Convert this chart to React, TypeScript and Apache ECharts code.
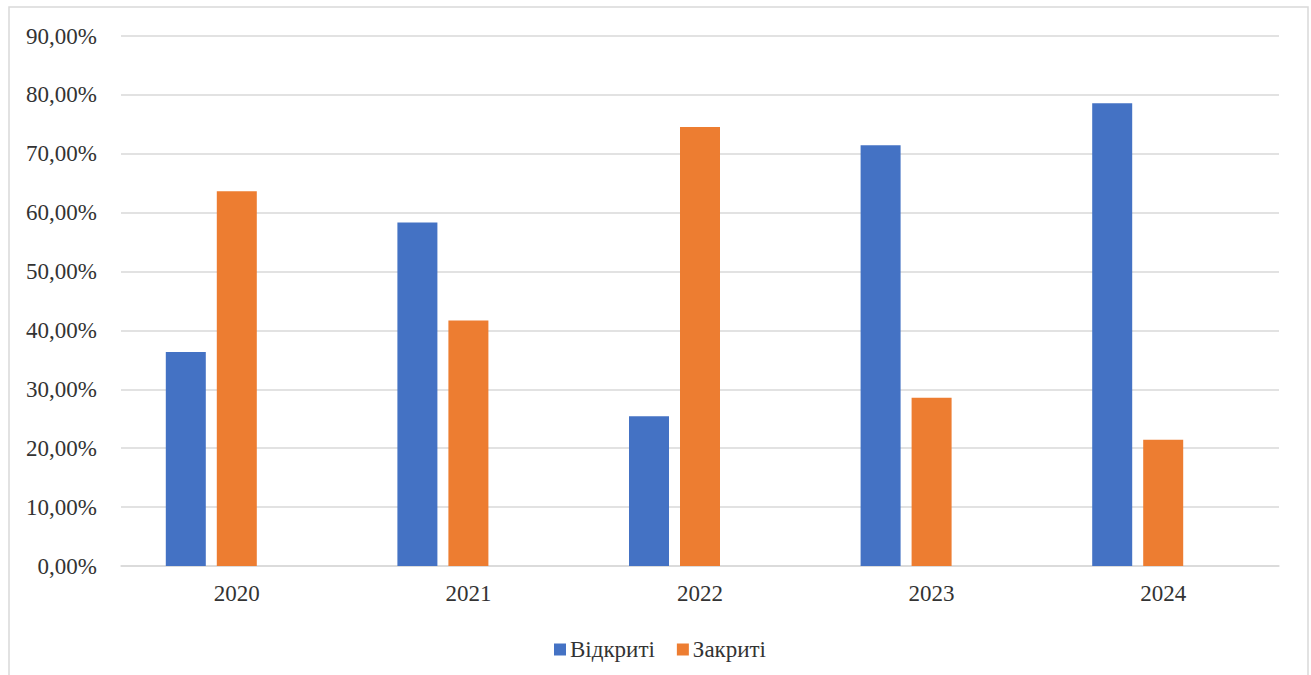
import React, { useEffect, useRef } from "react";
import * as echarts from "echarts";

const categories = ["2020", "2021", "2022", "2023", "2024"];
const openValues = [36.36, 58.33, 25.45, 71.43, 78.57];
const closedValues = [63.64, 41.67, 74.55, 28.57, 21.43];
const emptyValues = [null, null, null, null, null];
const seriesNames = ["Відкриті", "Закриті"];

const FONT = "Times New Roman, Liberation Serif, DejaVu Serif, serif";
const TEXT = "#333333";

export default function App() {
  const ref = useRef<HTMLDivElement>(null);
  useEffect(() => {
    if (!ref.current) return;
    const chart = echarts.init(ref.current, undefined, { renderer: "svg" });
    chart.setOption({
      animation: false,
      backgroundColor: "#ffffff",
      textStyle: { fontFamily: FONT },
      grid: { left: 121, right: 32, top: 36, bottom: 109, containLabel: false },
      legend: {
        data: seriesNames,
        left: 549,
        top: 633,
        itemWidth: 12,
        itemHeight: 12,
        itemGap: 22,
        icon: "rect",
        textStyle: { fontFamily: FONT, fontSize: 23, color: TEXT, padding: [0, 0, 0, -1] },
      },
      xAxis: {
        type: "category",
        data: categories,
        axisLine: { show: true, lineStyle: { color: "#d9d9d9", width: 1.5 } },
        axisTick: { show: false },
        axisLabel: { fontFamily: FONT, fontSize: 23, color: TEXT, margin: 16 },
      },
      yAxis: {
        type: "value",
        min: 0,
        max: 90,
        interval: 10,
        axisLine: { show: false },
        axisTick: { show: false },
        splitLine: { lineStyle: { color: "#d9d9d9", width: 1.5 } },
        axisLabel: {
          fontFamily: FONT,
          fontSize: 23,
          color: TEXT,
          margin: 24,
          formatter: (v: number) => v.toFixed(2).replace(".", ",") + "%",
        },
      },
      series: [
        {
          name: seriesNames[0],
          type: "bar",
          data: openValues,
          barWidth: 40,
          barGap: "27.5%",
          itemStyle: { color: "#4472C4" },
        },
        {
          name: seriesNames[1],
          type: "bar",
          data: closedValues,
          barWidth: 40,
          barGap: "27.5%",
          itemStyle: { color: "#ED7D31" },
        },
        {
          name: "_empty",
          type: "bar",
          data: emptyValues,
          barWidth: 40,
          barGap: "27.5%",
          itemStyle: { color: "#A5A5A5" },
        },
      ],
      graphic: [
        {
          type: "rect",
          shape: { x: 9, y: 7, width: 1299, height: 700 },
          style: { fill: "none", stroke: "#d9d9d9", lineWidth: 1.5 },
          silent: true,
        },
      ],
    });
    return () => chart.dispose();
  }, []);
  return (
    <div
      ref={ref}
      style={{ position: "fixed", left: 0, top: 0, width: 1311, height: 675 }}
    />
  );
}
